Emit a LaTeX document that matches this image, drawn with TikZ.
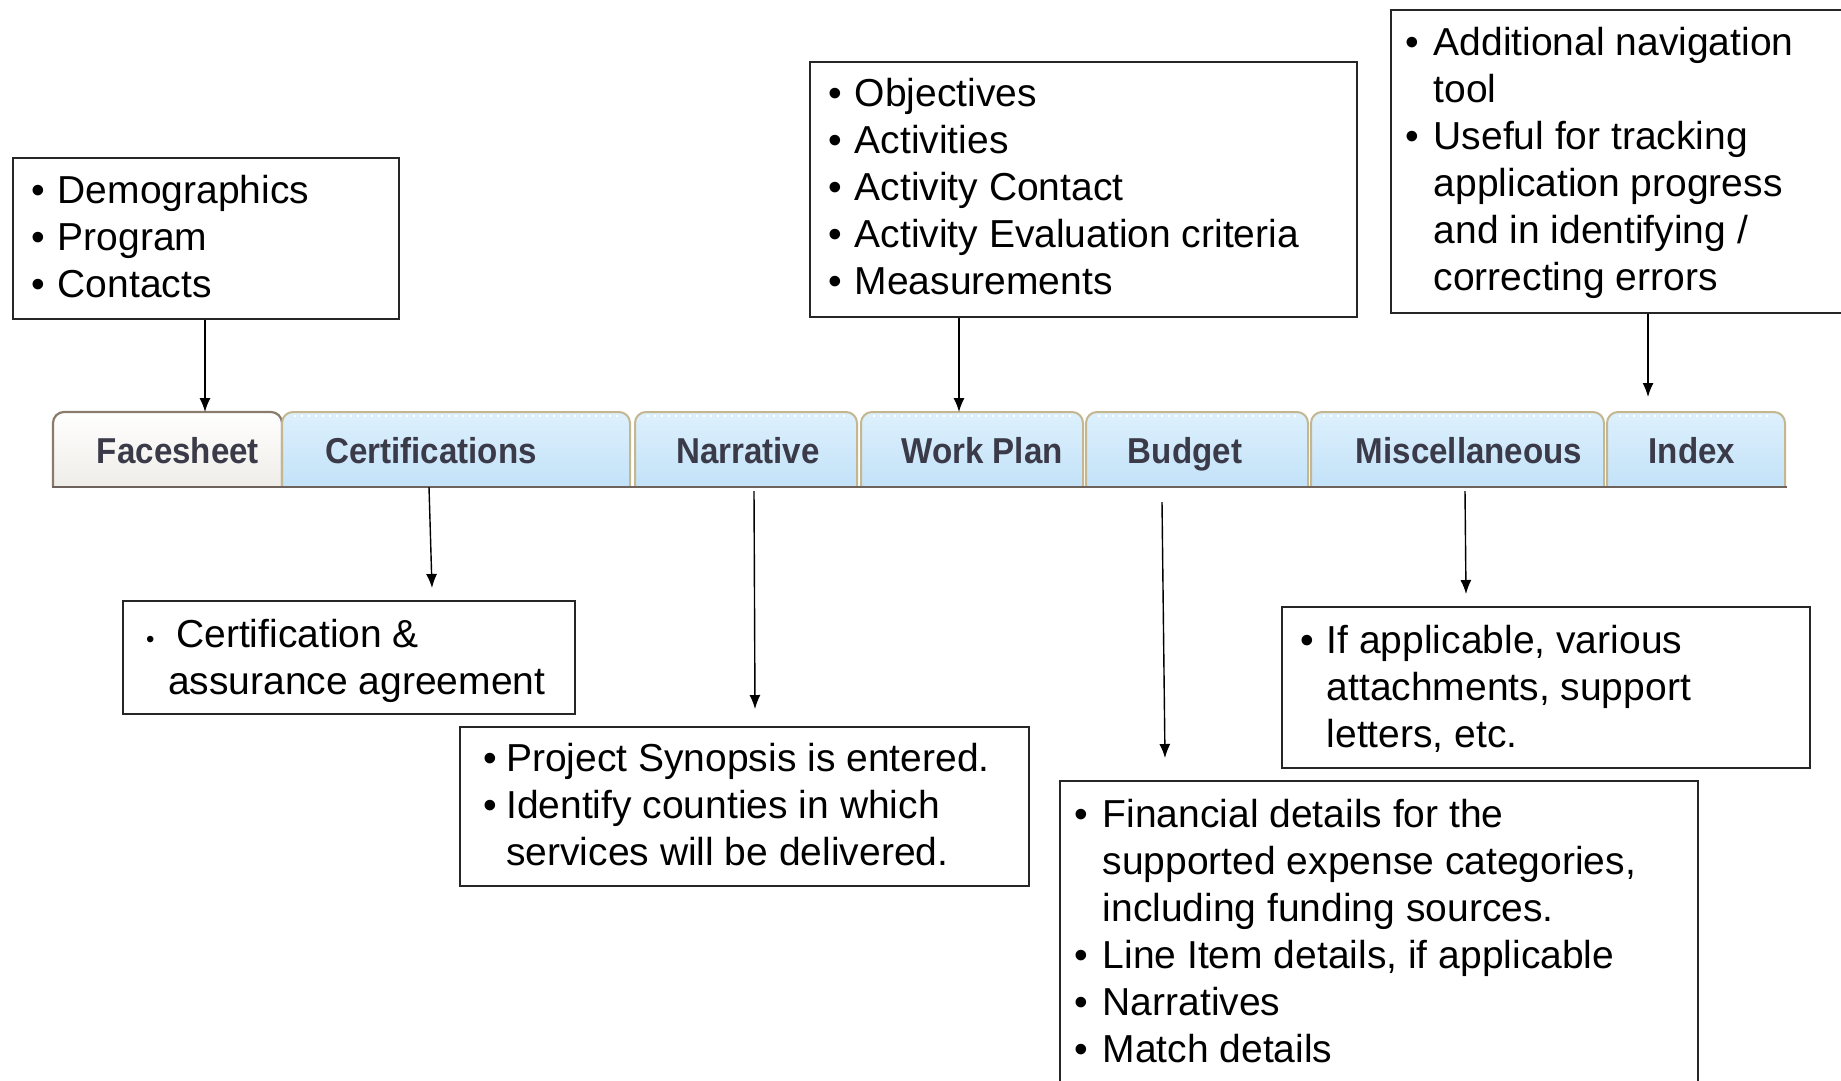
\documentclass[tikz,border=0pt]{standalone}
\usepackage{fontspec}
\setmainfont{Liberation Sans}
\newfontfamily\tabfamily[FakeStretch=0.92]{Liberation Sans}
\usetikzlibrary{arrows.meta}

\definecolor{boxline}{HTML}{262626}
\definecolor{tabtop}{HTML}{DDF0FD}
\definecolor{tabbot}{HTML}{C3E2F8}
\definecolor{tabedge}{HTML}{C4B68F}
\definecolor{faceedge}{HTML}{8A7B6D}
\definecolor{facebot}{HTML}{EFEDE8}
\definecolor{tabtext}{HTML}{3A3A48}
\definecolor{railcol}{HTML}{6E625C}

\newcommand\bodyfont{\fontsize{39}{47}\selectfont}
\newcommand\tabfont{\tabfamily\bfseries\fontsize{36}{40}\selectfont}
% bullet item start and continuation indent
\newlength\bw
\setlength\bw{26.5pt}
\newcommand\bl{\makebox[\bw][l]{\textbullet}}
\newcommand\ct{\hspace*{\bw}}
\newcommand\fl{\rule{0pt}{32pt}}

\tikzset{
  box/.style={draw=boxline, line width=1.8pt, inner sep=0pt, anchor=north west},
  txt/.style={anchor=north west, inner sep=0pt, align=left, font=\bodyfont, text=black},
  tabtxt/.style={font=\tabfont, text=tabtext, inner sep=0pt, anchor=base},
  bluetab/.style={top color=tabtop, bottom color=tabbot, draw=tabedge, line width=2pt, rounded corners=11pt},
  facetab/.style={top color=white, bottom color=facebot, draw=faceedge, line width=2.2pt, rounded corners=11pt},
  arr/.style={line width=1.4pt, draw=black, -{Latex[length=14pt,width=11pt]}}
}

\newcommand\tabshape[3]{%
  \path[#3] (#1,487) -- (#1,412) -- (#2,412) -- (#2,487);
}
\newcommand\tabdots[2]{%
  \draw[white, line width=1.6pt, dash pattern=on 2pt off 5pt] (#1+12,416) -- (#2-12,416);
}

\begin{document}
\begin{tikzpicture}[x=1pt,y=-1pt]
\useasboundingbox (0,0) rectangle (1841,1080);
\fill[white] (0,0) rectangle (1841,1080);
\clip (0,0) rectangle (1841,1080);

% ---- tab strip ----
\tabshape{53}{282}{facetab}
\tabshape{282}{630}{bluetab}
\tabshape{635}{857}{bluetab}
\tabshape{861}{1083}{bluetab}
\tabshape{1086}{1308}{bluetab}
\tabshape{1311}{1604}{bluetab}
\tabshape{1607}{1785}{bluetab}
\tabdots{282}{630}
\tabdots{635}{857}
\tabdots{861}{1083}
\tabdots{1086}{1308}
\tabdots{1311}{1604}
\tabdots{1607}{1785}
\draw[railcol, line width=2.6pt] (52,487) -- (1787,487);

\node[tabtxt] (tFace) at (178,463) {Facesheet};
\node[tabtxt] (tCert) at (431,463) {Certifications};
\node[tabtxt] (tNarr) at (748,463) {Narrative};
\node[tabtxt] (tWork) at (982,463) {Work Plan};
\node[tabtxt] (tBudg) at (1185,463) {Budget};
\node[tabtxt] (tMisc) at (1469,463) {Miscellaneous};
\node[tabtxt] (tIndx) at (1692,463) {Index};

% ---- description boxes ----
\node[box, minimum width=386pt, minimum height=161pt] (bFace) at (12,157) {};
\node[txt] (xFace) at (31,171) {\fl\bl Demographics\\ \bl Program\\ \bl Contacts};

\node[box, minimum width=547pt, minimum height=255pt] (bWork) at (809,61) {};
\node[txt] (xWork) at (828,74) {\fl\bl Objectives\\ \bl Activities\\ \bl Activity Contact\\ \bl Activity Evaluation criteria\\ \bl Measurements};

\node[box, minimum width=480pt, minimum height=303pt] (bIndx) at (1390,9) {};
\node[txt] (xIndx) at (1405,23) {\fl\makebox[28.5pt][l]{\textbullet}Additional navigation\\ \hspace*{28.5pt}tool\\ \makebox[28.5pt][l]{\textbullet}Useful for tracking\\ \hspace*{28.5pt}application progress\\ \hspace*{28.5pt}and in identifying /\\ \hspace*{28.5pt}correcting errors};

\node[box, minimum width=452pt, minimum height=113pt] (bCert) at (122,600) {};
\node[txt] (xCert) at (145,615) {\fl\makebox[31pt][l]{\hspace*{1pt}{\fontsize{24}{24}\selectfont\textbullet}}Certification \&\\ \hspace*{23pt}assurance agreement};

\node[box, minimum width=569pt, minimum height=159pt] (bNarr) at (459,726) {};
\node[txt] (xNarr) at (483,739) {\fl\makebox[23pt][l]{\textbullet}Project Synopsis is entered.\\ \makebox[23pt][l]{\textbullet}Identify counties in which\\ \hspace*{23pt}services will be delivered.};

\node[box, minimum width=638pt, minimum height=330pt] (bBudg) at (1059,780) {};
\node[txt] (xBudg) at (1074,795) {\fl\makebox[28.5pt][l]{\textbullet}Financial details for the\\ \hspace*{28.5pt}supported expense categories,\\ \hspace*{28.5pt}including funding sources.\\ \makebox[28.5pt][l]{\textbullet}Line Item details, if applicable\\ \makebox[28.5pt][l]{\textbullet}Narratives\\ \makebox[28.5pt][l]{\textbullet}Match details};

\node[box, minimum width=528pt, minimum height=161pt] (bMisc) at (1281,606) {};
\node[txt] (xMisc) at (1300,621) {\fl\bl If applicable, various\\ \ct attachments, support\\ \ct letters, etc.};

% ---- connector end points ----
\coordinate (eFace) at (205,412);
\coordinate (eWork) at (959,412);
\coordinate (eIndx) at (1648,397);
\coordinate (sCert) at (429,487);
\coordinate (eCert) at (432,588);
\coordinate (sNarr) at (754,491);
\coordinate (eNarr) at (755,709);
\coordinate (sBudg) at (1162,502);
\coordinate (eBudg) at (1165,758);
\coordinate (sMisc) at (1465,491);
\coordinate (eMisc) at (1466,594);

% ---- connectors ----
\draw[arr] (bFace.south -| eFace) -- (eFace);
\draw[arr] (bWork.south -| eWork) -- (eWork);
\draw[arr] (bIndx.south -| eIndx) -- (eIndx);
\draw[arr] (sCert) -- (eCert);
\draw[arr] (sNarr) -- (eNarr);
\draw[arr] (sBudg) -- (eBudg);
\draw[arr] (sMisc) -- (eMisc);
\end{tikzpicture}
\end{document}
